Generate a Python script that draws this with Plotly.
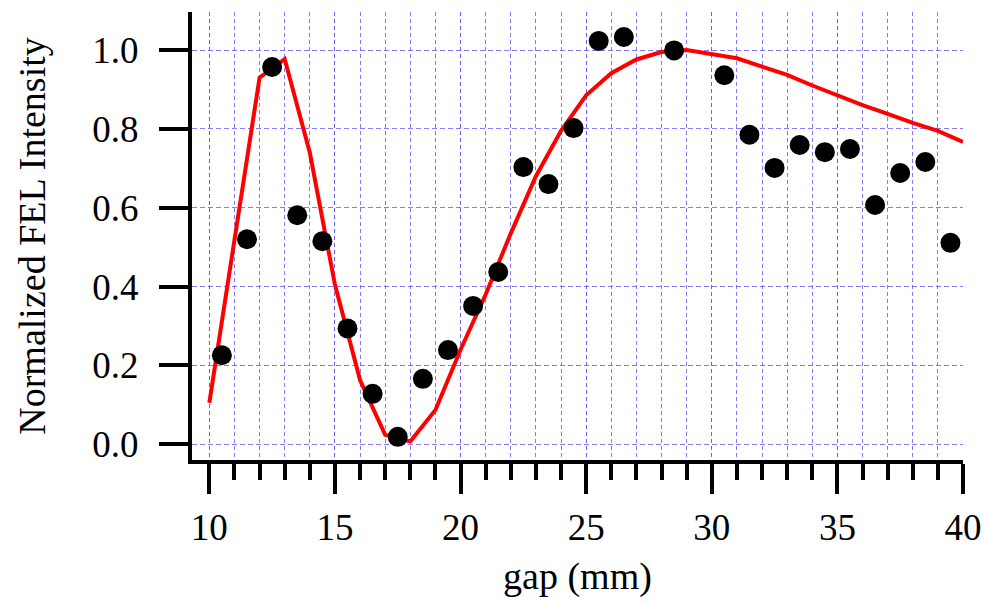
import plotly.graph_objects as go

# Measured data (black dots)
gap_meas = [10.5, 11.5, 12.5, 13.5, 14.5, 15.5, 16.5, 17.5, 18.5, 19.5, 20.5, 21.5,
            22.5, 23.5, 24.5, 25.5, 26.5, 28.5, 30.5, 31.5, 32.5, 33.5, 34.5, 35.5,
            36.5, 37.5, 38.5, 39.5]
int_meas = [0.226, 0.52, 0.957, 0.581, 0.515, 0.294, 0.128, 0.019, 0.166, 0.239, 0.351, 0.437,
            0.703, 0.66, 0.802, 1.023, 1.033, 0.999, 0.936, 0.785, 0.701, 0.759, 0.741, 0.749,
            0.607, 0.688, 0.716, 0.511]

# Simulated curve (red line)
gap_sim = [10, 11, 12, 13, 14, 15, 16, 17, 18, 19, 20, 21, 22, 23, 24, 25, 26, 27, 28, 29,
           30, 31, 32, 33, 34, 35, 36, 37, 38, 39, 40]
int_sim = [0.105, 0.52, 0.93, 0.977, 0.74, 0.405, 0.163, 0.024, 0.007, 0.087, 0.24, 0.38,
           0.535, 0.68, 0.795, 0.885, 0.941, 0.976, 0.995, 1.0, 0.99, 0.979, 0.958, 0.937,
           0.91, 0.885, 0.86, 0.838, 0.815, 0.795, 0.767]

x_ticks = [10, 15, 20, 25, 30, 35, 40]
y_ticks = [0.0, 0.2, 0.4, 0.6, 0.8, 1.0]

FONT = "Liberation Serif, Times New Roman, serif"
GRID = "rgba(105, 85, 255, 0.8)"

fig = go.Figure()
fig.add_trace(go.Scatter(x=gap_sim, y=int_sim, mode="lines",
                         line=dict(color="#ff0000", width=4), showlegend=False,
                         hoverinfo="skip"))
fig.add_trace(go.Scatter(x=gap_meas, y=int_meas, mode="markers",
                         marker=dict(color="black", size=20), showlegend=False))

fig.update_layout(
    width=986, height=603,
    margin=dict(l=192, r=23, t=12, b=143),
    paper_bgcolor="white", plot_bgcolor="white",
    font=dict(family=FONT, size=37, color="black"),
    xaxis=dict(
        range=[9.311, 40], tickvals=x_ticks, ticktext=[str(v) for v in x_ticks],
        automargin=False,
        showline=True, linewidth=4, linecolor="black", mirror=False,
        ticks="outside", ticklen=30, tickwidth=4, tickcolor="black",
        showgrid=True, gridcolor=GRID, gridwidth=1, griddash="4px,3px",
        zeroline=False,
        minor=dict(dtick=1, ticks="outside", ticklen=16, tickwidth=4, tickcolor="black",
                   showgrid=True, gridcolor=GRID, gridwidth=1, griddash="4px,3px"),
        tickfont=dict(family=FONT, size=37),
        ticklabelstandoff=2,
        title=dict(text="gap (mm)", font=dict(family=FONT, size=38), standoff=16),
    ),
    yaxis=dict(
        range=[-0.0398, 1.0964], tickvals=y_ticks, ticktext=[f"{v:.1f}" for v in y_ticks],
        automargin=False,
        showline=True, linewidth=4, linecolor="black",
        ticks="outside", ticklen=29, tickwidth=4, tickcolor="black",
        showgrid=True, gridcolor=GRID, gridwidth=1, griddash="5px,3px",
        zeroline=False,
        tickfont=dict(family=FONT, size=37),
        ticklabelstandoff=13,
        title=dict(text="Normalized FEL Intensity", font=dict(family=FONT, size=38), standoff=36),
    ),
)

fig.write_html("out.html")
